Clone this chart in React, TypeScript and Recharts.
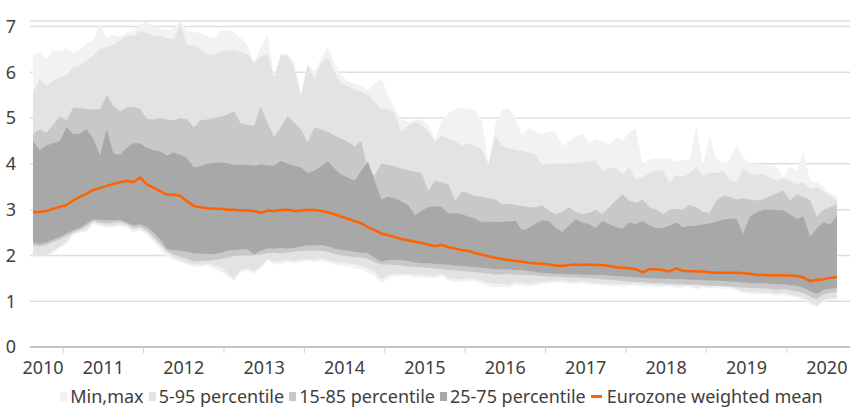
import { ComposedChart, Area, Line, XAxis, YAxis, CartesianGrid, Legend } from 'recharts'

// monthly observations, index 0 = first month shown (late 2010)
const maxVals = [
  6.35, 6.45, 6.3, 6.48, 6.45, 6.52, 6.42, 6.5, 6.62, 6.7,
  7.06, 6.76, 6.82, 6.78, 6.87, 6.9, 7.06, 7.1, 7.0, 6.95,
  6.92, 6.95, 7.12, 6.9, 6.88, 6.85, 6.8, 6.75, 6.9, 6.92,
  6.87, 6.75, 6.59, 6.2, 6.55, 6.8, 5.9, 6.4, 6.4, 6.2,
  5.5, 6.2, 6.0, 6.3, 6.55, 6.2, 5.94, 5.8, 5.75, 5.7,
  5.6, 5.75, 5.88, 5.5, 5.2, 4.98, 4.92, 4.95, 4.98, 4.85,
  4.55, 4.95, 5.1, 5.2, 5.23, 5.2, 5.18, 4.91, 4.01, 4.85,
  5.19, 5.22, 5.0, 4.62, 4.8, 4.7, 4.65, 4.7, 4.7, 4.38,
  4.5, 4.6, 4.66, 4.45, 4.55, 4.5, 4.4, 4.59, 4.5, 4.7,
  4.76, 3.97, 4.1, 4.12, 4.1, 4.12, 4.05, 4.08, 4.1, 4.83,
  3.97, 4.59, 4.1, 4.0, 4.1, 4.4, 4.15, 4.0, 4.0, 3.97,
  3.95, 3.95, 3.7, 3.95, 3.85, 4.27, 3.63, 3.6, 3.5, 3.35, 3.3,
]
const p95Vals = [
  5.58, 5.84, 5.7, 5.82, 5.88, 5.94, 6.12, 6.15, 6.25, 6.37,
  6.52, 6.55, 6.6, 6.7, 6.8, 6.8, 6.9, 6.85, 6.8, 6.8,
  6.75, 6.72, 7.05, 6.59, 6.6, 6.5, 6.4, 6.37, 6.45, 6.48,
  6.48, 6.45, 6.4, 6.2, 6.35, 6.4, 5.88, 6.37, 6.35, 6.1,
  5.5, 6.16, 5.85, 6.2, 6.33, 6.0, 5.77, 5.7, 5.62, 5.58,
  5.5, 5.35, 5.19, 5.19, 5.1, 4.7, 4.84, 4.91, 4.85, 4.7,
  4.48, 4.62, 4.55, 4.5, 4.4, 4.45, 4.4, 4.3, 3.98, 4.62,
  4.4, 4.35, 4.3, 4.28, 4.25, 4.2, 3.97, 4.0, 4.01, 4.0,
  4.02, 4.0, 4.03, 4.05, 4.08, 3.84, 3.9, 3.92, 3.77, 3.92,
  3.65, 3.7, 3.8, 3.86, 3.86, 3.58, 3.75, 3.72, 3.8, 3.93,
  3.75, 3.8, 3.8, 3.85, 3.65, 3.6, 3.9, 3.8, 3.75, 3.78,
  3.7, 3.63, 3.68, 3.62, 3.55, 3.6, 3.45, 3.5, 3.4, 3.3, 3.22,
]
const p85Vals = [
  4.66, 4.75, 4.68, 4.85, 5.04, 4.95, 5.23, 5.22, 5.2, 5.18,
  5.2, 5.51, 5.25, 5.15, 5.23, 5.25, 5.2, 4.98, 4.97, 5.0,
  4.97, 4.95, 5.0, 4.97, 4.8, 4.95, 4.97, 5.0, 5.03, 5.08,
  5.15, 4.88, 4.85, 4.83, 5.26, 4.9, 4.59, 4.8, 5.05, 4.9,
  4.75, 4.48, 4.8, 4.75, 4.7, 4.62, 4.55, 4.48, 4.38, 4.5,
  3.84, 3.75, 4.0, 3.98, 3.95, 3.9, 3.86, 3.83, 3.8, 3.41,
  3.63, 3.6, 3.55, 3.2, 3.4, 3.35, 3.3, 3.28, 3.25, 3.22,
  3.11, 3.13, 3.1, 3.08, 3.05, 3.05, 3.09, 2.98, 2.9, 2.95,
  3.05, 2.95, 2.9, 2.93, 3.0, 2.9, 3.05, 3.2, 3.33, 3.2,
  3.15, 3.22, 3.05, 3.0, 2.9, 3.0, 3.02, 3.0, 3.1, 3.05,
  2.95, 2.93, 3.2, 3.3, 3.28, 3.22, 3.25, 3.22, 3.2, 3.22,
  3.3, 3.35, 3.41, 3.2, 3.33, 3.28, 3.2, 2.85, 3.0, 3.05, 3.11,
]
const p75Vals = [
  4.5, 4.3, 4.4, 4.45, 4.5, 4.8, 4.65, 4.65, 4.76, 4.55,
  4.18, 4.76, 4.23, 4.2, 4.35, 4.45, 4.45, 4.35, 4.3, 4.27,
  4.18, 4.25, 4.2, 4.12, 3.92, 3.95, 4.0, 4.02, 4.03, 4.02,
  3.97, 3.98, 3.98, 3.96, 3.99, 3.97, 3.96, 4.06, 4.0, 3.96,
  3.92, 3.8, 3.85, 3.95, 4.06, 3.9, 3.76, 3.7, 3.63, 3.85,
  4.05, 3.63, 3.22, 3.28, 3.25, 3.18, 3.1, 2.87, 2.98, 3.05,
  3.08, 3.05, 2.92, 2.92, 2.9, 2.85, 2.8, 2.72, 2.74, 2.73,
  2.73, 2.74, 2.76, 2.55, 2.6, 2.7, 2.77, 2.75, 2.6, 2.51,
  2.65, 2.79, 2.72, 2.68, 2.6, 2.75, 2.68, 2.62, 2.58, 2.72,
  2.68, 2.75, 2.66, 2.6, 2.6, 2.65, 2.72, 2.62, 2.64, 2.65,
  2.68, 2.7, 2.74, 2.78, 2.8, 2.8, 2.47, 2.85, 2.94, 3.0,
  3.0, 2.99, 2.98, 2.9, 2.8, 2.85, 2.4, 2.6, 2.72, 2.68, 2.87,
]
const meanVals = [
  2.95, 2.95, 2.97, 3.02, 3.06, 3.1, 3.2, 3.28, 3.35, 3.43,
  3.47, 3.52, 3.56, 3.6, 3.63, 3.6, 3.7, 3.55, 3.48, 3.4,
  3.33, 3.33, 3.3, 3.18, 3.08, 3.05, 3.03, 3.02, 3.02, 3.0,
  3.0, 2.98, 2.98, 2.97, 2.93, 2.98, 2.97, 2.99, 3.0, 2.97,
  2.98, 3.0, 2.99, 2.97, 2.94, 2.9, 2.85, 2.8, 2.75, 2.7,
  2.62, 2.55, 2.48, 2.44, 2.4, 2.36, 2.33, 2.3, 2.27, 2.24,
  2.2, 2.23, 2.18, 2.15, 2.12, 2.1, 2.05, 2.02, 1.98, 1.95,
  1.92, 1.9, 1.88, 1.86, 1.84, 1.83, 1.82, 1.8, 1.78, 1.77,
  1.79, 1.8, 1.79, 1.8, 1.79, 1.79, 1.77, 1.74, 1.73, 1.72,
  1.7, 1.63, 1.7, 1.7, 1.68, 1.65, 1.72, 1.66, 1.66, 1.65,
  1.65, 1.63, 1.62, 1.62, 1.62, 1.62, 1.61, 1.6, 1.58, 1.57,
  1.56, 1.57, 1.56, 1.56, 1.55, 1.52, 1.44, 1.47, 1.48, 1.51, 1.53,
]
const p25Vals = [
  2.28, 2.25, 2.28, 2.35, 2.4, 2.48, 2.55, 2.6, 2.7, 2.79,
  2.78, 2.77, 2.77, 2.78, 2.72, 2.66, 2.68, 2.62, 2.5, 2.35,
  2.14, 2.12, 2.1, 2.08, 2.05, 2.04, 2.03, 2.03, 2.06, 2.1,
  2.12, 2.13, 2.14, 2.02, 2.1, 2.15, 2.15, 2.16, 2.15, 2.17,
  2.2, 2.22, 2.22, 2.23, 2.2, 2.15, 2.12, 2.1, 2.08, 2.06,
  2.05, 1.95, 1.87, 1.9, 1.9, 1.9, 1.88, 1.85, 1.83, 1.83,
  1.82, 1.8, 1.8, 1.78, 1.77, 1.76, 1.75, 1.73, 1.72, 1.7,
  1.7, 1.7, 1.68, 1.68, 1.66, 1.64, 1.62, 1.61, 1.6, 1.6,
  1.59, 1.59, 1.58, 1.58, 1.57, 1.57, 1.56, 1.55, 1.54, 1.53,
  1.52, 1.51, 1.5, 1.5, 1.49, 1.49, 1.48, 1.48, 1.47, 1.47,
  1.46, 1.45, 1.45, 1.44, 1.43, 1.42, 1.41, 1.4, 1.4, 1.39,
  1.38, 1.37, 1.37, 1.35, 1.34, 1.3, 1.22, 1.16, 1.25, 1.27, 1.29,
]
const p15Vals = [
  2.22, 2.2, 2.22, 2.3, 2.35, 2.42, 2.5, 2.56, 2.65, 2.75,
  2.72, 2.7, 2.72, 2.73, 2.68, 2.6, 2.62, 2.55, 2.4, 2.25,
  2.1, 2.02, 1.97, 1.92, 1.87, 1.88, 1.88, 1.9, 1.92, 1.95,
  1.98, 2.0, 2.0, 2.0, 2.02, 2.05, 2.06, 2.05, 2.06, 2.08,
  2.1, 2.1, 2.1, 2.1, 2.08, 2.03, 2.0, 1.98, 1.96, 1.95,
  1.93, 1.85, 1.8, 1.8, 1.79, 1.78, 1.76, 1.75, 1.74, 1.73,
  1.72, 1.7, 1.68, 1.67, 1.66, 1.65, 1.63, 1.62, 1.6, 1.58,
  1.59, 1.6, 1.58, 1.57, 1.57, 1.56, 1.55, 1.54, 1.54, 1.53,
  1.52, 1.52, 1.51, 1.5, 1.49, 1.48, 1.47, 1.46, 1.44, 1.43,
  1.42, 1.42, 1.4, 1.4, 1.39, 1.38, 1.38, 1.37, 1.36, 1.37,
  1.35, 1.34, 1.34, 1.33, 1.32, 1.31, 1.3, 1.29, 1.29, 1.28,
  1.27, 1.25, 1.26, 1.24, 1.22, 1.18, 1.1, 1.05, 1.15, 1.18, 1.2,
]
const p5Vals = [
  2.0, 1.98, 2.0, 2.1, 2.2, 2.3, 2.48, 2.52, 2.55, 2.72,
  2.68, 2.65, 2.65, 2.67, 2.65, 2.55, 2.58, 2.5, 2.35, 2.2,
  2.05, 1.95, 1.9, 1.83, 1.8, 1.8, 1.82, 1.78, 1.75, 1.62,
  1.48, 1.68, 1.72, 1.65, 1.75, 1.93, 1.85, 1.88, 1.9, 1.88,
  1.9, 1.92, 1.9, 1.93, 1.9, 1.85, 1.85, 1.83, 1.8, 1.77,
  1.72, 1.65, 1.48, 1.58, 1.6, 1.6, 1.6, 1.58, 1.58, 1.56,
  1.55, 1.6, 1.5, 1.48, 1.48, 1.5, 1.49, 1.45, 1.4, 1.37,
  1.38, 1.36, 1.42, 1.4, 1.38, 1.4, 1.42, 1.44, 1.44, 1.45,
  1.43, 1.42, 1.44, 1.42, 1.4, 1.39, 1.38, 1.37, 1.37, 1.38,
  1.39, 1.36, 1.37, 1.35, 1.34, 1.36, 1.33, 1.34, 1.36, 1.3,
  1.33, 1.32, 1.33, 1.31, 1.31, 1.28, 1.22, 1.2, 1.2, 1.18,
  1.19, 1.16, 1.18, 1.14, 1.12, 1.08, 0.97, 0.9, 1.02, 1.06, 1.07,
]
const minVals = [
  1.96, 1.95, 1.98, 2.05, 2.15, 2.25, 2.45, 2.5, 2.52, 2.68,
  2.64, 2.6, 2.62, 2.64, 2.6, 2.5, 2.55, 2.45, 2.3, 2.12,
  1.98, 1.9, 1.85, 1.8, 1.75, 1.76, 1.78, 1.72, 1.65, 1.55,
  1.45, 1.62, 1.68, 1.6, 1.72, 1.9, 1.8, 1.82, 1.85, 1.83,
  1.86, 1.88, 1.85, 1.88, 1.85, 1.8, 1.78, 1.76, 1.72, 1.7,
  1.62, 1.55, 1.39, 1.5, 1.55, 1.55, 1.55, 1.52, 1.52, 1.5,
  1.5, 1.55, 1.45, 1.42, 1.42, 1.44, 1.43, 1.38, 1.32, 1.3,
  1.32, 1.3, 1.36, 1.34, 1.32, 1.35, 1.37, 1.4, 1.4, 1.4,
  1.38, 1.37, 1.39, 1.37, 1.35, 1.35, 1.33, 1.33, 1.32, 1.34,
  1.35, 1.32, 1.33, 1.31, 1.3, 1.33, 1.29, 1.3, 1.32, 1.26,
  1.29, 1.28, 1.29, 1.27, 1.27, 1.24, 1.18, 1.16, 1.16, 1.14,
  1.15, 1.12, 1.14, 1.1, 1.08, 1.03, 0.93, 0.88, 0.98, 1.03, 1.05,
]

const yearLabels = ['2010', '2011', '2012', '2013', '2014', '2015', '2016', '2017', '2018', '2019', '2020']
const yearLabelPos = [1.5, 10.5, 22.5, 34.5, 46.5, 58.5, 70.5, 82.5, 94.5, 106.5, 118.5]
const yearBreaks = [4.5, 16.5, 28.5, 40.5, 52.5, 64.5, 76.5, 88.5, 100.5, 112.5]
const yTicks = [0, 1, 2, 3, 4, 5, 6, 7]

const legendItems = [
  { name: 'Min,max', color: '#f2f2f2', line: false },
  { name: '5-95 percentile', color: '#e3e3e3', line: false },
  { name: '15-85 percentile', color: '#c8c8c8', line: false },
  { name: '25-75 percentile', color: '#a8a8a8', line: false },
  { name: 'Eurozone weighted mean', color: '#ff6200', line: true },
]

const data = meanVals.map((m, i) => ({
  i,
  mm: [minVals[i], maxVals[i]],
  p595: [p5Vals[i], p95Vals[i]],
  p1585: [p15Vals[i], p85Vals[i]],
  p2575: [p25Vals[i], p75Vals[i]],
  mean: m,
}))

const font = "'Noto Sans', sans-serif"
const textColor = '#404040'
const xDomain = [-0.45, 121.95]
const xTicks = [...yearLabelPos, ...yearBreaks].sort((a, b) => a - b)

// year labels sit mid-year, small tick marks sit on the year breaks
function YearTick({ x, y, payload }: any) {
  const v = payload.value
  const idx = yearLabelPos.indexOf(v)
  if (idx < 0) {
    return <line x1={x} x2={x} y1={y} y2={y + 6} stroke="#d0d0d0" strokeWidth={1} />
  }
  return (
    <text x={x} y={y + 27} textAnchor="middle" fontSize={18} fill={textColor} fontFamily={font}>
      {yearLabels[idx]}
    </text>
  )
}

function LegendContent() {
  return (
    <div style={{ display: 'flex', justifyContent: 'center', alignItems: 'center', fontFamily: font, fontSize: 18, color: textColor, lineHeight: '22px', paddingLeft: 38 }}>
      {legendItems.map(it => (
        <span key={it.name} style={{ display: 'inline-flex', alignItems: 'center', marginRight: 5 }}>
          {it.line
            ? <span style={{ display: 'inline-block', width: 11, height: 3, background: it.color, marginRight: 5 }} />
            : <span style={{ display: 'inline-block', width: 7, height: 9, background: it.color, marginRight: 3 }} />}
          {it.name}
        </span>
      ))}
    </div>
  )
}

export default function App() {
  return (
    <div>
      <style>{'body{margin:0}'}</style>
      <ComposedChart width={852} height={409} data={data} margin={{ top: 21, right: 2, left: 0, bottom: 0 }}>
        <XAxis
          type="number"
          dataKey="i"
          domain={xDomain}
          ticks={xTicks}
          interval={0}
          axisLine={{ stroke: '#c4c4c4', strokeWidth: 2 }}
          tickLine={false}
          tickSize={0}
          tickMargin={0}
          height={38}
          tick={<YearTick />}
          allowDataOverflow
        />
        <YAxis
          domain={[0, 7]}
          ticks={yTicks}
          interval={0}
          axisLine={false}
          tickLine={false}
          width={30}
          tickMargin={8}
          tick={{ fontSize: 18, fill: textColor, fontFamily: font }}
        />
        <Area dataKey="mm" type="linear" fill="#f2f2f2" fillOpacity={1} stroke="none" dot={false} activeDot={false} isAnimationActive={false} />
        <Area dataKey="p595" type="linear" fill="#e3e3e3" fillOpacity={1} stroke="none" dot={false} activeDot={false} isAnimationActive={false} />
        <Area dataKey="p1585" type="linear" fill="#c8c8c8" fillOpacity={1} stroke="none" dot={false} activeDot={false} isAnimationActive={false} />
        <Area dataKey="p2575" type="linear" fill="#a8a8a8" fillOpacity={1} stroke="none" dot={false} activeDot={false} isAnimationActive={false} />
        <CartesianGrid vertical={false} stroke="#c8c8c8" strokeOpacity={0.6} strokeWidth={1.5} />
        <Line dataKey="mean" type="linear" stroke="#ff6200" strokeWidth={2.5} dot={false} activeDot={false} isAnimationActive={false} />
        <Legend verticalAlign="bottom" height={24} content={() => <LegendContent />} />
      </ComposedChart>
    </div>
  )
}
